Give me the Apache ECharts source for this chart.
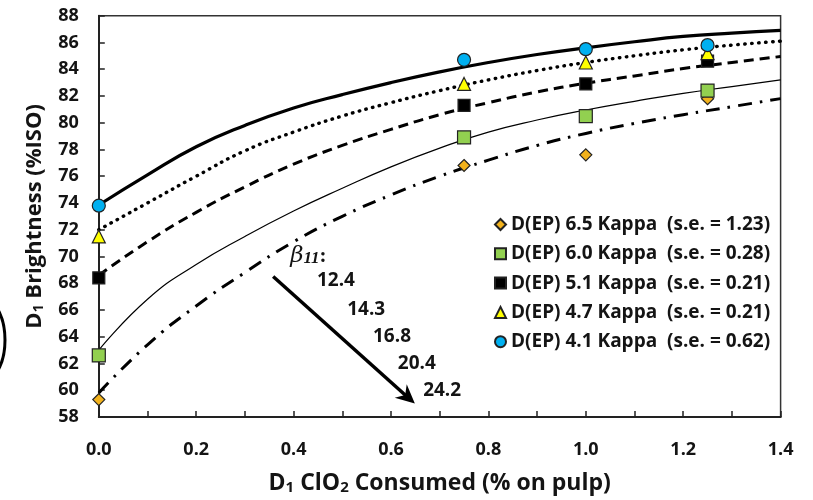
<!DOCTYPE html>
<html>
<head>
<meta charset="utf-8">
<script src="https://cdn.jsdelivr.net/npm/echarts@6/dist/echarts.min.js"></script>
<style>
  html, body { margin: 0; padding: 0; background: #fff; }
  #chart { width: 813px; height: 500px; }
</style>
</head>
<body>
<div id="chart"></div>
<script>
// Fitted brightness curves, sampled along ClO2 consumed (% on pulp)
const xFit = [0, 0.1, 0.2, 0.3, 0.4, 0.5, 0.6, 0.7, 0.8, 0.9, 1.0, 1.1, 1.2, 1.3, 1.4];
const fit41 = [73.85, 76.1, 78.2, 79.8, 81.1, 82.1, 83.0, 83.8, 84.5, 85.1, 85.6, 86.05, 86.45, 86.7, 86.9];
const fit47 = [72.0, 74.0, 76.0, 77.9, 79.3, 80.5, 81.5, 82.4, 83.2, 83.9, 84.5, 85.0, 85.45, 85.8, 86.1];
const fit51 = [68.6, 71.1, 73.3, 75.2, 76.9, 78.3, 79.5, 80.6, 81.5, 82.3, 82.95, 83.5, 84.05, 84.5, 84.95];
const fit60 = [63.0, 66.8, 69.4, 71.5, 73.4, 75.1, 76.7, 78.1, 79.3, 80.2, 80.95, 81.6, 82.2, 82.7, 83.2];
const fit65 = [59.8, 63.4, 66.3, 68.8, 71.1, 73.0, 74.6, 76.0, 77.2, 78.3, 79.2, 79.95, 80.6, 81.2, 81.8];

// Measured D1 brightness (%ISO)
const xPts = [0, 0.75, 1.0, 1.25];
const pts65 = [59.3, 76.8, 77.6, 81.8];
const pts60 = [62.6, 78.9, 80.5, 82.4];
const pts51 = [68.4, 81.3, 82.9, 84.6];
const pts47 = [71.5, 82.9, 84.5, 85.2];
const pts41 = [73.8, 84.7, 85.5, 85.8];

const seriesNames = [
  'D(EP) 6.5 Kappa  (s.e. = 1.23)',
  'D(EP) 6.0 Kappa  (s.e. = 0.28)',
  'D(EP) 5.1 Kappa  (s.e. = 0.21)',
  'D(EP) 4.7 Kappa  (s.e. = 0.21)',
  'D(EP) 4.1 Kappa  (s.e. = 0.62)'
];

// beta_11 values listed beside the arrow
const betaLabels = ['12.4', '14.3', '16.8', '20.4', '24.2'];

const FONT = '"Open Sans", "Liberation Sans", sans-serif';
const INK = '#141414';

const pair = (xs, ys) => xs.map((x, i) => [x, ys[i]]);

function fitSeries(ys, lineStyle) {
  return {
    type: 'line', data: pair(xFit, ys), smooth: 0.5,
    showSymbol: false, symbol: 'none', silent: true, z: 2,
    lineStyle: Object.assign({ color: '#000' }, lineStyle)
  };
}

function pointSeries(name, ys, symbol, size, color) {
  return {
    type: 'scatter', name: name, data: pair(xPts, ys), symbol: symbol, symbolSize: size, z: 5,
    itemStyle: { color: color, borderColor: '#222', borderWidth: 1.2, opacity: 1 }
  };
}

function titleRich(size) {
  return {
    t: { fontFamily: FONT, fontWeight: 'bold', fontSize: size, color: INK, lineHeight: size + 5, verticalAlign: 'bottom' },
    s: { fontFamily: FONT, fontWeight: 'bold', fontSize: Math.round(size * 0.65), color: INK, lineHeight: Math.round(size * 0.65) + 5, verticalAlign: 'bottom' }
  };
}

const chart = echarts.init(document.getElementById('chart'), null, { renderer: 'canvas' });

const option = {
  animation: false,
  backgroundColor: '#fff',
  grid: {
    left: 98.8, right: 32.4, top: 15.7, bottom: 79.3,
    show: true, borderColor: '#333', borderWidth: 1.5, backgroundColor: 'transparent'
  },
  legend: {
    data: seriesNames,
    orient: 'vertical', left: 489, top: 210,
    itemWidth: 11, itemHeight: 11, itemGap: 10.3,
    textStyle: { fontFamily: FONT, fontWeight: 'bold', fontSize: 19, color: INK },
    selectedMode: false
  },
  xAxis: {
    type: 'value', min: 0, max: 1.4, interval: 0.1,
    name: '{t|D}{s|1}{t| ClO}{s|2}{t| Consumed (% on pulp)}',
    nameLocation: 'middle', nameGap: 50,
    nameTextStyle: { rich: titleRich(23) },
    splitLine: { show: false },
    axisLine: { onZero: false, lineStyle: { color: '#222', width: 2 } },
    axisTick: { inside: true, length: 6, lineStyle: { color: '#222', width: 1.5 } },
    axisLabel: {
      margin: 24, fontFamily: FONT, fontWeight: 'bold', fontSize: 18, color: INK,
      formatter: v => (Math.round(v * 10) % 2 === 0 ? v.toFixed(1) : '')
    }
  },
  yAxis: {
    type: 'value', min: 58, max: 88, interval: 2,
    name: '{t|D}{s|1}{t| Brightness (%ISO)}',
    nameLocation: 'middle', nameGap: 53, nameRotate: 90,
    nameTextStyle: { rich: titleRich(22) },
    splitLine: { show: false },
    axisLine: { onZero: false, lineStyle: { color: '#222', width: 2 } },
    axisTick: { inside: true, length: 6, lineStyle: { color: '#222', width: 1.5 } },
    axisLabel: { margin: 20, fontFamily: FONT, fontWeight: 'bold', fontSize: 18, color: INK }
  },
  series: [
    fitSeries(fit41, { width: 3.2, type: 'solid' }),
    fitSeries(fit47, { width: 3.4, type: [0.5, 6.5], cap: 'round' }),
    fitSeries(fit51, { width: 3, type: [10, 6] }),
    fitSeries(fit60, { width: 1.2, type: 'solid' }),
    fitSeries(fit65, { width: 3, type: [14, 8, 2.5, 8] }),
    pointSeries(seriesNames[0], pts65, 'diamond', 12, '#F2B21C'),
    pointSeries(seriesNames[1], pts60, 'rect', 13, '#92D050'),
    pointSeries(seriesNames[2], pts51, 'rect', 12, '#000000'),
    pointSeries(seriesNames[3], pts47, 'triangle', 13, '#FFFF00'),
    pointSeries(seriesNames[4], pts41, 'circle', 13, '#00B0F0')
  ]
};
chart.setOption(option);

// Arrow and beta_11 annotation, anchored in data space
const arrowFrom = chart.convertToPixel({ gridIndex: 0 }, [0.358, 68.5]);
const arrowTo = chart.convertToPixel({ gridIndex: 0 }, [0.649, 59.0]);
const betaAnchor = chart.convertToPixel({ gridIndex: 0 }, [0.393, 70.15]);
const labelAnchors = [[0.448, 68.2], [0.510, 66.05], [0.563, 63.98], [0.614, 62.0], [0.666, 59.98]]
  .map(p => chart.convertToPixel({ gridIndex: 0 }, p));

const dx = arrowTo[0] - arrowFrom[0], dy = arrowTo[1] - arrowFrom[1];
const len = Math.hypot(dx, dy), ux = dx / len, uy = dy / len;
const headLen = 19, headHalf = 9, notch = 6;
const base = [arrowTo[0] - ux * headLen, arrowTo[1] - uy * headLen];
const head = [
  arrowTo,
  [base[0] - uy * headHalf, base[1] + ux * headHalf],
  [arrowTo[0] - ux * (headLen - notch), arrowTo[1] - uy * (headLen - notch)],
  [base[0] + uy * headHalf, base[1] - ux * headHalf]
];

const graphics = [
  {
    type: 'line', z: 10,
    shape: { x1: arrowFrom[0], y1: arrowFrom[1], x2: arrowTo[0] - ux * 10, y2: arrowTo[1] - uy * 10 },
    style: { stroke: '#000', lineWidth: 3.5 }
  },
  { type: 'polygon', z: 10, shape: { points: head }, style: { fill: '#000' } },
  {
    type: 'text', z: 10, x: betaAnchor[0], y: betaAnchor[1],
    style: {
      text: '{b|β}{s|11}{c|:}',
      verticalAlign: 'middle', align: 'left',
      rich: {
        b: { fontFamily: '"DejaVu Serif", serif', fontStyle: 'italic', fontSize: 23, fill: INK, lineHeight: 26, verticalAlign: 'bottom' },
        s: { fontFamily: '"Liberation Serif", serif', fontStyle: 'italic', fontWeight: 'bold', fontSize: 17, fill: INK, lineHeight: 20, verticalAlign: 'bottom' },
        c: { fontFamily: '"Liberation Serif", serif', fontWeight: 'bold', fontSize: 21, fill: INK, lineHeight: 26, verticalAlign: 'bottom' }
      }
    }
  },
  {
    type: 'ellipse', z: 10,
    shape: { cx: -13, cy: 340, rx: 18, ry: 38 },
    style: { fill: 'none', stroke: '#000', lineWidth: 3 }
  }
];
labelAnchors.forEach((p, i) => {
  graphics.push({
    type: 'text', z: 10, x: p[0], y: p[1],
    style: {
      text: betaLabels[i], align: 'left', verticalAlign: 'middle',
      fontFamily: FONT, fontWeight: 'bold', fontSize: 19, fill: INK
    }
  });
});
chart.setOption({ graphic: graphics });
</script>
</body>
</html>
